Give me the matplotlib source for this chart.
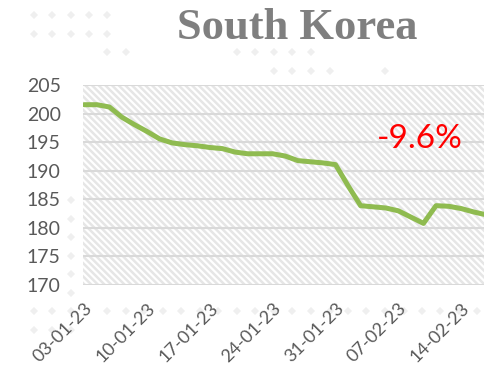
import numpy as np
import matplotlib
matplotlib.use('Agg')
import matplotlib.pyplot as plt
from matplotlib.patches import Rectangle

# trading days, 3 Jan - 16 Feb 2023
dates = ['03-01-23', '04-01-23', '05-01-23', '06-01-23', '09-01-23', '10-01-23',
         '11-01-23', '12-01-23', '13-01-23', '16-01-23', '17-01-23', '18-01-23',
         '19-01-23', '20-01-23', '23-01-23', '24-01-23', '25-01-23', '26-01-23',
         '27-01-23', '30-01-23', '31-01-23', '01-02-23', '02-02-23', '03-02-23',
         '06-02-23', '07-02-23', '08-02-23', '09-02-23', '10-02-23', '13-02-23',
         '14-02-23', '15-02-23', '16-02-23']
values = [201.6, 201.6, 201.2, 199.4, 198.1, 196.9, 195.6, 194.9, 194.6, 194.4,
          194.1, 193.9, 193.3, 193.0, 193.0, 193.0, 192.6, 191.8, 191.6, 191.4,
          191.1, 187.4, 183.9, 183.7, 183.5, 183.0, 181.9, 180.8, 183.9, 183.8,
          183.4, 182.8, 182.3]
change_label = '-9.6%'
title = 'South Korea'

W, H = 485, 366
fig = plt.figure(figsize=(W / 100, H / 100), dpi=100)

# faint diamond pattern in the background
def diamonds(x0, x1, y0, y1, step=18.5):
    xs = np.arange(15, W, step)
    ys = np.arange(15, H, step)
    gx, gy = np.meshgrid(xs, ys)
    m = (gx >= x0) & (gx <= x1) & (gy >= y0) & (gy <= y1)
    fig.add_artist(plt.Line2D(gx[m] / W, 1 - gy[m] / H, ls='none', marker='D',
                              ms=4.5, mew=0, color='#efefef',
                              transform=fig.transFigure, zorder=0))

diamonds(25, 110, 10, 40)
diamonds(95, 130, 40, 60)
diamonds(225, 320, 45, 60)
diamonds(260, 340, 62, 90)
diamonds(370, 400, 62, 80)
diamonds(65, 75, 185, 295)
diamonds(25, 80, 296, 340)
diamonds(95, 480, 296, 325)

ax = fig.add_axes([83 / W, 1 - 285 / H, 1 - 83 / W, 199.7 / H])
ax.set_facecolor('white')
plt.rcParams['hatch.linewidth'] = 1.8
ax.add_patch(Rectangle((0, 0), 1, 1, transform=ax.transAxes, facecolor='white',
                       edgecolor='#e6e6e6', hatch='\\\\\\\\\\', lw=0, zorder=0))

x = np.arange(len(values))
ax.plot(x, values, color='#8fbb50', lw=3.6, solid_joinstyle='round',
        solid_capstyle='round', zorder=3)

ax.set_ylim(170, 205)
ax.set_xlim(-0.1, 31.9)
ax.set_yticks(np.arange(170, 206, 5))
ax.yaxis.grid(True, color='#d9d9d9', lw=1.5, zorder=1)
ax.set_axisbelow(True)
for s in ax.spines.values():
    s.set_visible(False)

ticks = list(range(0, len(dates), 5))[:7]
ax.set_xticks(ticks)
ax.set_xticklabels([dates[i] for i in ticks], rotation=45, ha='right',
                   va='top', rotation_mode='anchor')
ax.tick_params(axis='both', length=0, colors='#595959')
ax.tick_params(axis='x', pad=11, labelsize=13)
ax.tick_params(axis='y', pad=16, labelsize=14)
for lab in ax.get_xticklabels() + ax.get_yticklabels():
    lab.set_fontfamily('Lato')

ax.text(0.838, 0.686, change_label, transform=ax.transAxes, color='#ff0000',
        fontsize=24, fontfamily='Lato', ha='center', va='baseline')

fig.text(297 / W, 1 - 28 / H, title, fontsize=32, fontweight='bold',
         fontfamily='Liberation Serif', color='#7f7f7f', ha='center', va='center')

fig.savefig('out.png', dpi=100)
